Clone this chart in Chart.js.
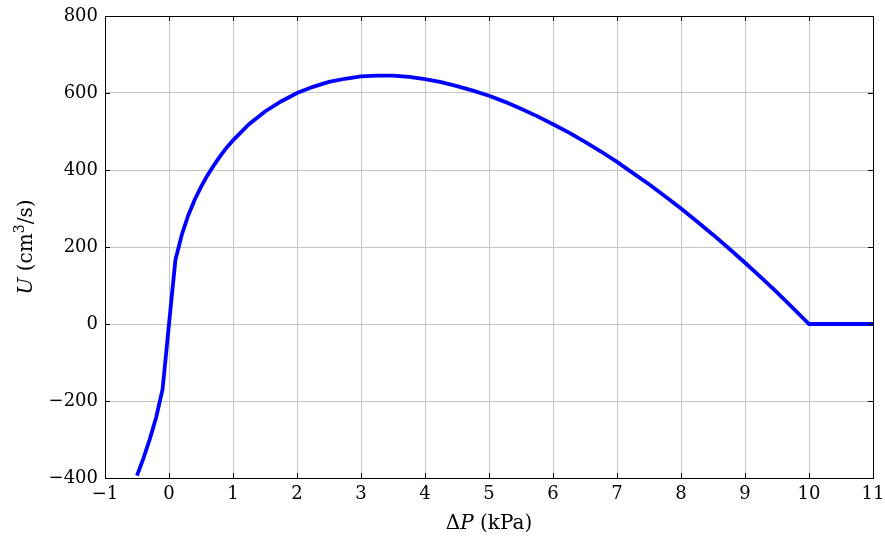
<!DOCTYPE html>
<html>
<head>
<meta charset="utf-8">
<script src="https://cdn.jsdelivr.net/npm/chart.js@4/dist/chart.umd.min.js"></script>
<style>
  html, body { margin: 0; padding: 0; background: #fff; }
  #wrap { width: 885px; height: 540px; }
</style>
</head>
<body>
<div id="wrap"><canvas id="chart" width="885" height="540"></canvas></div>
<script>
// pressure difference (kPa) and flow rate (cm^3/s)
const deltaP = [-0.5, -0.4, -0.3, -0.2, -0.1, 0, 0.1, 0.2, 0.3, 0.4, 0.5, 0.6, 0.7, 0.8, 0.9, 1,
    1.25, 1.5, 1.75, 2, 2.25, 2.5, 2.75, 3, 3.25, 3.5, 3.75, 4, 4.25, 4.5, 4.75, 5, 5.25, 5.5,
    5.75, 6, 6.25, 6.5, 6.75, 7, 7.25, 7.5, 7.75, 8, 8.25, 8.5, 8.75, 9, 9.25, 9.5, 9.75, 10, 11];
const flow = [-394, -349, -299, -242, -169, 0, 166, 232, 282, 322, 356, 386, 412, 436, 458, 477,
    519, 552, 578, 600, 616, 629, 637, 643, 645, 645, 642, 636, 628, 618, 606, 593, 577, 559,
    540, 519, 497, 473, 448, 421, 392, 363, 332, 300, 266, 232, 196, 159, 121, 82, 41, 0, 0];
const xTicks = [-1, 0, 1, 2, 3, 4, 5, 6, 7, 8, 9, 10, 11];
const yTicks = [-400, -200, 0, 200, 400, 600, 800];

const serif = "'DejaVu Serif', serif";
const minus = v => String(v).replace('-', '\u2212');

// frame, inward ticks and axis titles, pgfplots style
const framePlugin = {
    id: 'frame',
    afterDraw(chart) {
        const ctx = chart.ctx;
        const a = chart.chartArea;
        const xs = chart.scales.x, ys = chart.scales.y;
        ctx.save();
        ctx.strokeStyle = '#000';
        ctx.lineWidth = 1;
        ctx.beginPath();
        xTicks.forEach(t => {
            const px = Math.round(xs.getPixelForValue(t)) + 0.5;
            ctx.moveTo(px, a.bottom); ctx.lineTo(px, a.bottom - 5);
            ctx.moveTo(px, a.top); ctx.lineTo(px, a.top + 5);
        });
        yTicks.forEach(t => {
            const py = Math.round(ys.getPixelForValue(t)) + 0.5;
            ctx.moveTo(a.left, py); ctx.lineTo(a.left + 5, py);
            ctx.moveTo(a.right, py); ctx.lineTo(a.right - 5, py);
        });
        ctx.stroke();
        ctx.strokeRect(Math.round(a.left) + 0.5, Math.round(a.top) + 0.5,
            Math.round(a.right - a.left), Math.round(a.bottom - a.top));

        ctx.fillStyle = '#000';
        ctx.textBaseline = 'alphabetic';
        // x title: ΔP (kPa)
        drawParts(ctx, [['\u0394', 'normal', 20, 0], ['P', 'italic', 20, 0], [' (kPa)', 'normal', 20, 0]],
            (a.left + a.right) / 2, 529);

        // y title: U (cm³/s)
        ctx.translate(32, (a.top + a.bottom) / 2);
        ctx.rotate(-Math.PI / 2);
        drawParts(ctx, [['U', 'italic', 20, 0], [' (cm', 'normal', 20, 0], ['3', 'normal', 14, -8],
            ['/s)', 'normal', 20, 0]], 0, 0);
        ctx.restore();
    }
};

function drawParts(ctx, parts, cx, baseline) {
    let total = 0;
    parts.forEach(p => {
        ctx.font = p[1] + ' ' + p[2] + 'px ' + serif;
        total += ctx.measureText(p[0]).width;
    });
    let x = cx - total / 2;
    parts.forEach(p => {
        ctx.font = p[1] + ' ' + p[2] + 'px ' + serif;
        ctx.textAlign = 'left';
        ctx.fillText(p[0], x, baseline + p[3]);
        x += ctx.measureText(p[0]).width;
    });
}

new Chart(document.getElementById('chart'), {
    type: 'scatter',
    data: {
        datasets: [{
            data: deltaP.map((p, i) => ({ x: p, y: flow[i] })),
            showLine: true,
            borderColor: '#0000ff',
            backgroundColor: '#0000ff',
            borderWidth: 3.8,
            pointRadius: 0,
            tension: 0
        }]
    },
    options: {
        responsive: false,
        animation: false,
        layout: { padding: { top: 16, right: 0, left: 0, bottom: 0 } },
        plugins: { legend: { display: false }, tooltip: { enabled: false } },
        scales: {
            x: {
                type: 'linear',
                min: -1, max: 11,
                afterBuildTicks: s => { s.ticks = xTicks.map(v => ({ value: v })); },
                afterFit: s => { s.height = 62; s.paddingRight = 12; s.paddingLeft = 0; },
                ticks: {
                    color: '#000', padding: 6,
                    font: { family: serif, size: 18 },
                    callback: v => minus(v)
                },
                grid: { color: '#c4c4c4', drawTicks: false },
                border: { display: false }
            },
            y: {
                min: -400, max: 800,
                afterBuildTicks: s => { s.ticks = yTicks.map(v => ({ value: v })); },
                afterFit: s => { s.width = 105; s.paddingTop = 0; s.paddingBottom = 0; },
                ticks: {
                    color: '#000', padding: 7,
                    font: { family: serif, size: 18 },
                    callback: v => minus(v)
                },
                grid: { color: '#c4c4c4', drawTicks: false },
                border: { display: false }
            }
        }
    },
    plugins: [framePlugin]
});
</script>
</body>
</html>
